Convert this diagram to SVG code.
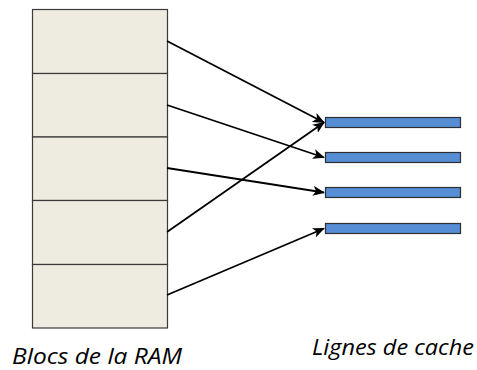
<svg xmlns="http://www.w3.org/2000/svg" width="477" height="370" viewBox="0 0 477 370">
<style>
.blk{fill:#EEEBE0;stroke:#3A3A3A;stroke-width:1.2}
.line{fill:#558ED5;stroke:#2E2E2E;stroke-width:1.2}
.conn{stroke:#000;stroke-width:1.8;fill:none;marker-end:url(#ah)}
.lbl{font-family:"Open Sans","Noto Sans",sans-serif;font-style:italic;font-size:21px;fill:#000}
</style>
<defs>
<marker id="ah" markerWidth="12" markerHeight="10" refX="11" refY="5" orient="auto" markerUnits="userSpaceOnUse">
<path d="M0,0 L12,5 L0,10 L3,5 Z" fill="#000"/>
</marker>
</defs>
<rect width="477" height="370" fill="#fff"/>
<g id="ram">
<rect class="blk" x="32.5" y="9.5" width="135" height="64"/>
<rect class="blk" x="32.5" y="73.5" width="135" height="63.5"/>
<rect class="blk" x="32.5" y="137" width="135" height="63.5"/>
<rect class="blk" x="32.5" y="200.5" width="135" height="64"/>
<rect class="blk" x="32.5" y="264.5" width="135" height="63.5"/>
</g>
<g id="cache">
<rect class="line" x="325.5" y="117.5" width="135" height="10"/>
<rect class="line" x="325.5" y="152.5" width="135" height="10"/>
<rect class="line" x="325.5" y="187.5" width="135" height="10"/>
<rect class="line" x="325.5" y="223.5" width="135" height="10"/>
</g>
<g id="connectors">
<line class="conn" x1="167" y1="41" x2="324" y2="122.5"/>
<line class="conn" x1="167" y1="105" x2="324" y2="157.5"/>
<line class="conn" x1="167" y1="168" x2="324" y2="192.5"/>
<line class="conn" x1="167" y1="232" x2="324" y2="122.5"/>
<line class="conn" x1="167" y1="295" x2="324" y2="228.5"/>
</g>
<g id="labels">
<text class="lbl" x="12" y="363.5" textLength="170" lengthAdjust="spacingAndGlyphs">Blocs de la RAM</text>
<text class="lbl" x="312" y="355" textLength="162" lengthAdjust="spacingAndGlyphs">Lignes de cache</text>
</g>
</svg>
